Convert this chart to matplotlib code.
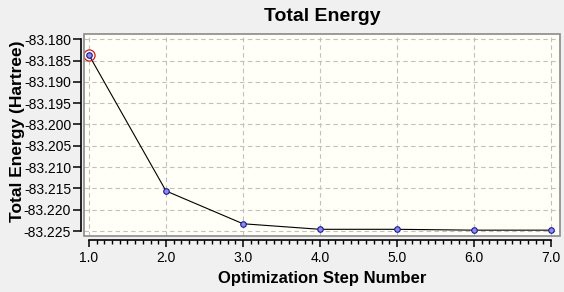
import matplotlib.pyplot as plt
from matplotlib.patches import Rectangle
from matplotlib.ticker import MultipleLocator, FixedLocator, FormatStrFormatter

plt.rcParams['font.family'] = ['Liberation Sans', 'DejaVu Sans']

steps = [1, 2, 3, 4, 5, 6, 7]
energy = [-83.1837, -83.2156, -83.2233, -83.2246, -83.2246, -83.2248, -83.2248]
yticks = [-83.180, -83.185, -83.190, -83.195, -83.200, -83.205, -83.210, -83.215, -83.220, -83.225]

fig = plt.figure(figsize=(5.64, 2.92), dpi=100, facecolor='#f0f0f0')
ax = fig.add_axes([0.1489, 0.1918, 0.844, 0.6918], facecolor='#fffff7')

ax.plot(steps, energy, color='black', lw=0.8, zorder=3)
ax.plot(steps, energy, ls='none', marker='o', ms=4, mfc='#8c8cf0', mec='#1a1a8c', mew=0.8, zorder=4)
# selected point
ax.plot(steps[:1], energy[:1], ls='none', marker='o', ms=8, mfc='none', mec='#c81e1e', mew=0.9, zorder=5)

ax.set_xlim(0.935, 7.117)
ax.set_ylim(-83.22617, -83.17876)

ax.set_yticks(yticks)
ax.yaxis.set_major_formatter(FormatStrFormatter('%.3f'))
ax.xaxis.set_major_locator(MultipleLocator(1))
ax.xaxis.set_minor_locator(FixedLocator([1 + i / 10 for i in range(61)]))
ax.xaxis.set_major_formatter(FormatStrFormatter('%.1f'))

ax.grid(True, which='major', color='#c0c0c0', ls=(0, (4, 3)), lw=0.8)
ax.set_axisbelow(True)

for s in ['top', 'right']:
    ax.spines[s].set_visible(False)
ax.spines['left'].set_position(('outward', 2.2))
ax.spines['bottom'].set_position(('outward', 2.9))
ax.spines['left'].set_bounds(-83.225, -83.180)
ax.spines['bottom'].set_bounds(1, 7)
ax.spines['left'].set_linewidth(1.2)
ax.spines['bottom'].set_linewidth(1.2)

ax.add_patch(Rectangle((0, 0), 1, 1, transform=ax.transAxes, fill=False,
                       edgecolor='#8a8a8a', lw=1.2, clip_on=False, zorder=6))

ax.tick_params(axis='y', which='major', length=5.5, width=1.1, pad=1.5, labelsize=10)
ax.tick_params(axis='x', which='major', length=5, width=1.1, pad=3, labelsize=10)
ax.tick_params(axis='x', which='minor', length=3, width=1.0)

ax.set_title('Total Energy', fontsize=14, fontweight='bold', pad=9)
ax.set_xlabel('Optimization Step Number', fontsize=12, fontweight='bold', labelpad=4)
ax.set_ylabel('Total Energy (Hartree)', fontsize=12.5, fontweight='bold')
ax.yaxis.set_label_coords(-0.124, 0.52)

fig.savefig('out.png', dpi=100, facecolor=fig.get_facecolor())
